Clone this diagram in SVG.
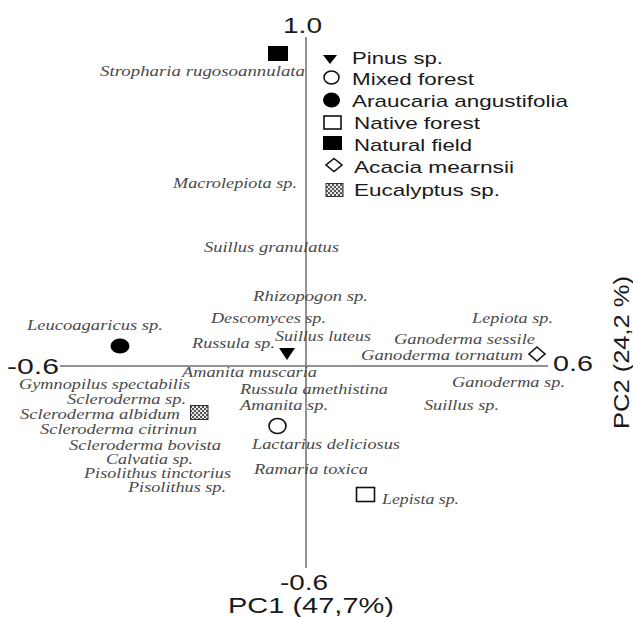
<svg xmlns="http://www.w3.org/2000/svg" width="633" height="617" viewBox="0 0 633 617">
<style>
.lab{font-family:"Liberation Serif","Times New Roman",serif;font-style:italic;font-size:14.5px;fill:#4a4a4a}
.leg{font-family:"Liberation Sans",Arial,sans-serif;font-size:17px;fill:#1a1a1a}
.ax{font-family:"Liberation Sans",Arial,sans-serif;font-size:22px;fill:#1a1a1a}
.axis{stroke:#6e6e6e;stroke-width:1.5;fill:none}
.hollow{fill:#fff;stroke:#111;stroke-width:1.6}
.solid{fill:#000}
.euc{fill:url(#chk);stroke:#333;stroke-width:1}
</style>
<defs>
<pattern id="chk" width="4" height="4" patternUnits="userSpaceOnUse">
<rect width="4" height="4" fill="#e8e8e8"/>
<rect width="2" height="2" fill="#555"/>
<rect x="2" y="2" width="2" height="2" fill="#555"/>
</pattern>
</defs>
<rect width="633" height="617" fill="#fff"/>
<g id="axes">
<line class="axis" x1="306" y1="37" x2="306" y2="568"/>
<line class="axis" x1="60" y1="366" x2="548" y2="366"/>
<text class="ax" x="283" y="33" textLength="39" lengthAdjust="spacingAndGlyphs">1.0</text>
<text class="ax" x="7" y="374" textLength="52" lengthAdjust="spacingAndGlyphs">-0.6</text>
<text class="ax" x="553" y="371" textLength="40" lengthAdjust="spacingAndGlyphs">0.6</text>
<text class="ax" x="280" y="590" textLength="48" lengthAdjust="spacingAndGlyphs">-0.6</text>
<text class="ax" x="228" y="613" textLength="166" lengthAdjust="spacingAndGlyphs">PC1 (47,7%)</text>
<text class="ax" transform="translate(629,429) rotate(-90)" x="0" y="0" textLength="153" lengthAdjust="spacingAndGlyphs">PC2 (24,2 %)</text>
</g>
<g id="legend">
<polygon class="solid" points="323,55 337,55 330,64"/>
<text class="leg" x="352" y="64" textLength="91" lengthAdjust="spacingAndGlyphs">Pinus sp.</text>
<ellipse class="hollow" cx="331.5" cy="77.5" rx="7.5" ry="6.5"/>
<text class="leg" x="352" y="85" textLength="122" lengthAdjust="spacingAndGlyphs">Mixed forest</text>
<ellipse class="solid" cx="331.5" cy="100" rx="8.5" ry="7.5"/>
<text class="leg" x="352" y="107" textLength="216" lengthAdjust="spacingAndGlyphs">Araucaria angustifolia</text>
<rect class="hollow" x="324" y="116" width="17" height="13"/>
<text class="leg" x="354" y="129" textLength="126" lengthAdjust="spacingAndGlyphs">Native forest</text>
<rect class="solid" x="323" y="136" width="19" height="14"/>
<text class="leg" x="354" y="151" textLength="118" lengthAdjust="spacingAndGlyphs">Natural field</text>
<polygon class="hollow" points="334,158.5 342,165 334,171.5 326,165"/>
<text class="leg" x="354" y="173" textLength="160" lengthAdjust="spacingAndGlyphs">Acacia mearnsii</text>
<rect class="euc" x="326" y="183.5" width="17" height="13"/>
<text class="leg" x="354" y="196" textLength="146" lengthAdjust="spacingAndGlyphs">Eucalyptus sp.</text>
</g>
<g id="natural-field"><rect class="solid" x="268" y="46" width="20" height="15"/></g>
<g id="araucaria"><ellipse class="solid" cx="120" cy="346" rx="9.5" ry="7.5"/></g>
<g id="pinus"><polygon class="solid" points="279,348 295,348 287,360"/></g>
<g id="mixed-forest"><ellipse class="hollow" cx="277.5" cy="426" rx="8.5" ry="7.5"/></g>
<g id="eucalyptus"><rect class="euc" x="190.5" y="405.5" width="17.5" height="14"/></g>
<g id="native-forest"><rect class="hollow" x="356.5" y="487.5" width="18" height="14"/></g>
<g id="acacia"><polygon class="hollow" points="537,347 545,354 537,361 529,354"/></g>
<g id="species">
<text class="lab" x="100" y="76" textLength="205" lengthAdjust="spacingAndGlyphs">Stropharia rugosoannulata</text>
<text class="lab" x="173" y="188" textLength="124" lengthAdjust="spacingAndGlyphs">Macrolepiota sp.</text>
<text class="lab" x="204" y="252" textLength="135" lengthAdjust="spacingAndGlyphs">Suillus granulatus</text>
<text class="lab" x="253" y="301" textLength="115" lengthAdjust="spacingAndGlyphs">Rhizopogon sp.</text>
<text class="lab" x="211" y="323" textLength="115" lengthAdjust="spacingAndGlyphs">Descomyces sp.</text>
<text class="lab" x="27" y="330" textLength="136" lengthAdjust="spacingAndGlyphs">Leucoagaricus sp.</text>
<text class="lab" x="472" y="323" textLength="81" lengthAdjust="spacingAndGlyphs">Lepiota sp.</text>
<text class="lab" x="192" y="348" textLength="83" lengthAdjust="spacingAndGlyphs">Russula sp.</text>
<text class="lab" x="275" y="341" textLength="96" lengthAdjust="spacingAndGlyphs">Suillus luteus</text>
<text class="lab" x="394" y="344" textLength="141" lengthAdjust="spacingAndGlyphs">Ganoderma sessile</text>
<text class="lab" x="361" y="360" textLength="162" lengthAdjust="spacingAndGlyphs">Ganoderma tornatum</text>
<text class="lab" x="182" y="377" textLength="135" lengthAdjust="spacingAndGlyphs">Amanita muscaria</text>
<text class="lab" x="19" y="389" textLength="171" lengthAdjust="spacingAndGlyphs">Gymnopilus spectabilis</text>
<text class="lab" x="452" y="387" textLength="113" lengthAdjust="spacingAndGlyphs">Ganoderma sp.</text>
<text class="lab" x="240" y="394" textLength="148" lengthAdjust="spacingAndGlyphs">Russula amethistina</text>
<text class="lab" x="67" y="404" textLength="119" lengthAdjust="spacingAndGlyphs">Scleroderma sp.</text>
<text class="lab" x="240" y="410" textLength="88" lengthAdjust="spacingAndGlyphs">Amanita sp.</text>
<text class="lab" x="424" y="410" textLength="75" lengthAdjust="spacingAndGlyphs">Suillus sp.</text>
<text class="lab" x="20" y="419" textLength="160" lengthAdjust="spacingAndGlyphs">Scleroderma albidum</text>
<text class="lab" x="40" y="434" textLength="157" lengthAdjust="spacingAndGlyphs">Scleroderma citrinun</text>
<text class="lab" x="69" y="450" textLength="152" lengthAdjust="spacingAndGlyphs">Scleroderma bovista</text>
<text class="lab" x="252" y="449" textLength="148" lengthAdjust="spacingAndGlyphs">Lactarius deliciosus</text>
<text class="lab" x="106" y="464" textLength="87" lengthAdjust="spacingAndGlyphs">Calvatia sp.</text>
<text class="lab" x="254" y="474" textLength="114" lengthAdjust="spacingAndGlyphs">Ramaria toxica</text>
<text class="lab" x="84" y="478" textLength="147" lengthAdjust="spacingAndGlyphs">Pisolithus tinctorius</text>
<text class="lab" x="128" y="492" textLength="98" lengthAdjust="spacingAndGlyphs">Pisolithus sp.</text>
<text class="lab" x="382" y="504" textLength="77" lengthAdjust="spacingAndGlyphs">Lepista sp.</text>
</g>
</svg>
